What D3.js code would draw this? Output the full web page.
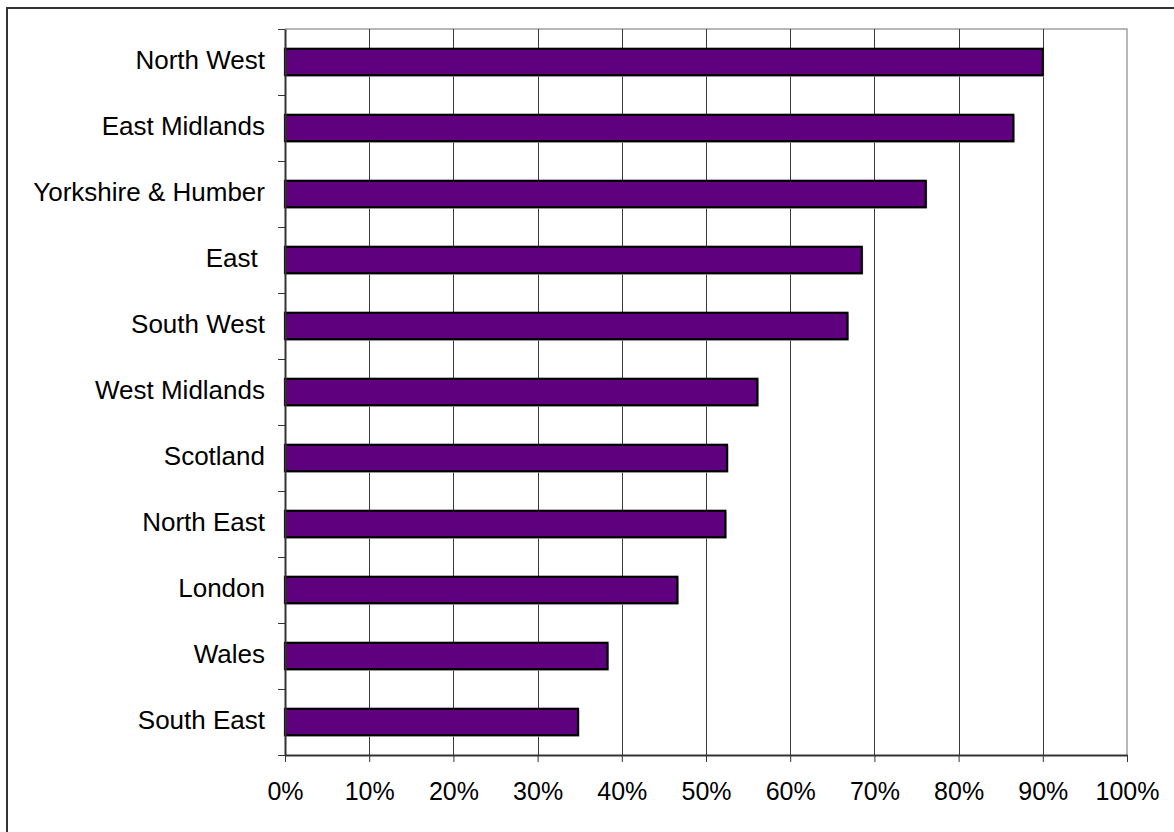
<!DOCTYPE html>
<html>
<head>
<meta charset="utf-8">
<script src="https://cdn.jsdelivr.net/npm/d3@7"></script>
<style>
  html, body { margin: 0; padding: 0; background: #fff; }
  svg { display: block; }
  text { font-family: "Liberation Sans", Arial, sans-serif; fill: #000; }
</style>
</head>
<body>
<svg id="chart" width="1174" height="832"></svg>
<script>
// Regions, top to bottom
const regions = ["North West", "East Midlands", "Yorkshire & Humber", "East ", "South West",
  "West Midlands", "Scotland", "North East", "London", "Wales", "South East"];
// Share for each region (fraction of 1)
const shares = [0.900, 0.865, 0.761, 0.685, 0.668, 0.561, 0.525, 0.523, 0.466, 0.383, 0.348];
// Axis ticks
const xTicks = [0, 0.1, 0.2, 0.3, 0.4, 0.5, 0.6, 0.7, 0.8, 0.9, 1.0];

const svg = d3.select("#chart");
const W = 1174, H = 832;
const plot = { left: 285, right: 1127, top: 29, bottom: 755 };

// Outer frame
svg.append("rect")
  .attr("x", 7).attr("y", 8)
  .attr("width", W + 10).attr("height", H + 10)
  .attr("fill", "#fff").attr("stroke", "#333").attr("stroke-width", 2);

const x = d3.scaleLinear().domain([0, 1]).range([plot.left, plot.right]);
const y = d3.scaleBand().domain(regions)
  .range([plot.top, plot.bottom])
  .paddingInner(0.6).paddingOuter(0.3);
const edge = d3.scaleLinear().domain([0, regions.length]).range([plot.top, plot.bottom]);

// Plot-area border (top and right)
svg.append("path")
  .attr("d", `M${plot.left},${plot.top}H${plot.right}V${plot.bottom}`)
  .attr("fill", "none").attr("stroke", "#a0a0a0").attr("stroke-width", 1.5);

// Vertical gridlines
svg.append("g").selectAll("line")
  .data(xTicks.filter(t => t > 0 && t < 1))
  .join("line")
  .attr("x1", d => Math.round(x(d)) + 0.5).attr("x2", d => Math.round(x(d)) + 0.5)
  .attr("y1", plot.top).attr("y2", plot.bottom)
  .attr("stroke", "#3a3a3a").attr("stroke-width", 1);

// Bar shadows
svg.append("g").selectAll("rect")
  .data(regions)
  .join("rect")
  .attr("x", x(0) + 1.5)
  .attr("y", d => y(d) + 1.5)
  .attr("width", (d, i) => x(shares[i]) - x(0))
  .attr("height", y.bandwidth())
  .attr("fill", "#c8c8c8");

// Bars
svg.append("g").selectAll("rect")
  .data(regions)
  .join("rect")
  .attr("x", x(0))
  .attr("y", d => y(d))
  .attr("width", (d, i) => x(shares[i]) - x(0))
  .attr("height", y.bandwidth())
  .attr("fill", "#5f007f")
  .attr("stroke", "#000").attr("stroke-width", 2.2);

// Category axis: ticks at band boundaries
const yAxis = svg.append("g")
  .attr("transform", `translate(${plot.left},0)`)
  .call(d3.axisLeft(edge).tickValues(d3.range(regions.length + 1)).tickFormat("").tickSize(7).tickSizeOuter(0));
yAxis.select(".domain").attr("stroke", "#333").attr("stroke-width", 2);
yAxis.selectAll(".tick line").attr("stroke", "#333").attr("stroke-width", 1);

// Category labels
svg.append("g").selectAll("text")
  .data(regions)
  .join("text")
  .attr("x", 265)
  .attr("y", d => y(d) + y.bandwidth() / 2 + 6.5)
  .attr("text-anchor", "end")
  .attr("font-size", 26)
  .style("white-space", "pre")
  .text(d => d);

// Value axis
const xAxis = svg.append("g")
  .attr("transform", `translate(0,${plot.bottom})`)
  .call(d3.axisBottom(x).tickValues(xTicks).tickFormat(d3.format(".0%")).tickSize(7).tickSizeOuter(0).tickPadding(20));
xAxis.select(".domain").attr("stroke", "#333").attr("stroke-width", 2);
xAxis.selectAll(".tick line").attr("stroke", "#333").attr("stroke-width", 1);
xAxis.selectAll(".tick text")
  .attr("font-size", 25)
  .attr("font-family", "'Liberation Sans', Arial, sans-serif")
  .attr("fill", "#000")
  .attr("y", 45).attr("dy", 0);
</script>
</body>
</html>
